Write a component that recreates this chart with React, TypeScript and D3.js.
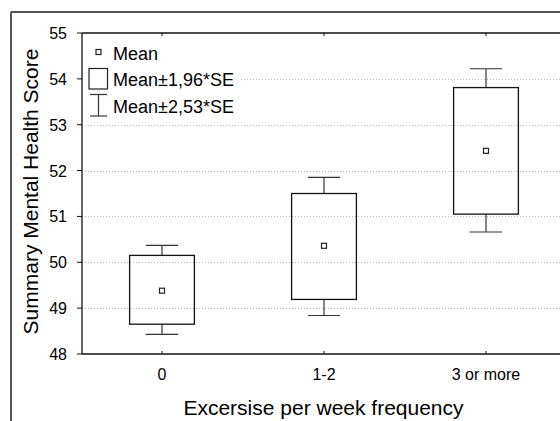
import * as d3 from "d3";

const categories = ["0", "1-2", "3 or more"];
const means = [49.38, 50.36, 52.43];
const boxLow = [48.65, 49.19, 51.05];
const boxHigh = [50.15, 51.5, 53.81];
const whiskerLow = [48.43, 48.84, 50.66];
const whiskerHigh = [50.37, 51.85, 54.22];
const yTicks = [48, 49, 50, 51, 52, 53, 54, 55];

const W = 560;
const H = 421;
const margin = { top: 33, right: -7, bottom: 67, left: 82 };
const font = "'Liberation Sans', Arial, sans-serif";

const App = () => {
  const x = d3
    .scaleBand<string>()
    .domain(categories)
    .range([margin.left - 1, W - margin.right])
    .padding(0);
  const y = d3
    .scaleLinear()
    .domain([48, 55])
    .range([H - margin.bottom, margin.top]);

  const bw = x.bandwidth();
  const boxW = bw * 0.4;
  const capW = bw * 0.2;
  const cx = (c: string) => (x(c) ?? 0) + bw / 2;
  const left = margin.left;
  const right = W - margin.right;
  const top = margin.top;
  const bottom = H - margin.bottom;

  return (
    <svg
      width={W}
      height={H}
      style={{ position: "absolute", left: 0, top: 0, background: "#fff" }}
      fontFamily={font}
    >
      {/* outer frame */}
      <line x1={11} x2={11} y1={12} y2={H} stroke="#555" strokeWidth={2} />
      <line x1={11} x2={W} y1={12} y2={12} stroke="#555" strokeWidth={2} />

      {/* grid lines */}
      {yTicks
        .filter((t) => t > 48 && t < 55)
        .map((t) => (
          <line
            key={"g" + t}
            x1={left}
            x2={right}
            y1={Math.round(y(t)) + 0.5}
            y2={Math.round(y(t)) + 0.5}
            stroke="#bbb"
            strokeDasharray="1,2"
          />
        ))}

      {/* boxes and whiskers */}
      {categories.map((c, i) => {
        const xc = cx(c);
        return (
          <g key={c}>
            <line x1={xc} x2={xc} y1={y(whiskerHigh[i])} y2={y(boxHigh[i])} stroke="#333" strokeWidth={1.2} />
            <line x1={xc} x2={xc} y1={y(boxLow[i])} y2={y(whiskerLow[i])} stroke="#333" strokeWidth={1.2} />
            <line x1={xc - capW / 2} x2={xc + capW / 2} y1={y(whiskerHigh[i])} y2={y(whiskerHigh[i])} stroke="#333" strokeWidth={1.2} />
            <line x1={xc - capW / 2} x2={xc + capW / 2} y1={y(whiskerLow[i])} y2={y(whiskerLow[i])} stroke="#333" strokeWidth={1.2} />
            <rect
              x={xc - boxW / 2}
              y={y(boxHigh[i])}
              width={boxW}
              height={y(boxLow[i]) - y(boxHigh[i])}
              fill="none"
              stroke="#111"
              strokeWidth={1.3}
            />
            <rect x={xc - 2.5} y={y(means[i]) - 2.5} width={5} height={5} fill="#fff" stroke="#222" strokeWidth={1.2} />
          </g>
        );
      })}

      {/* legend */}
      <rect x={left + 1} y={top + 1} width={158} height={88} fill="#fff" />
      <rect x={96} y={49.5} width={5} height={5} fill="#fff" stroke="#222" strokeWidth={1.2} />
      <text x={113} y={60} fontSize={18}>Mean</text>
      <rect x={89} y={68.5} width={18.5} height={20.5} fill="none" stroke="#222" strokeWidth={1.2} />
      <text x={113} y={86} fontSize={18}>Mean±1,96*SE</text>
      <line x1={98.5} x2={98.5} y1={94.5} y2={116} stroke="#333" strokeWidth={1.2} />
      <line x1={90} x2={107} y1={94.5} y2={94.5} stroke="#333" strokeWidth={1.2} />
      <line x1={90} x2={107} y1={116} y2={116} stroke="#333" strokeWidth={1.2} />
      <text x={113} y={112.5} fontSize={18}>Mean±2,53*SE</text>

      {/* axes frame */}
      <line x1={left} x2={left} y1={top} y2={bottom} stroke="#111" strokeWidth={1.3} />
      <line x1={left} x2={right} y1={top} y2={top} stroke="#111" strokeWidth={1.3} />
      <line x1={left} x2={right} y1={bottom} y2={bottom} stroke="#111" strokeWidth={1.3} />

      {/* y ticks */}
      {yTicks.map((t) => (
        <g key={"y" + t}>
          <line x1={left - 5} x2={left} y1={y(t)} y2={y(t)} stroke="#111" />
          <text x={67} y={y(t) + 6} fontSize={16} textAnchor="end">
            {t}
          </text>
        </g>
      ))}

      {/* x ticks */}
      {categories.map((c) => (
        <g key={"x" + c}>
          <line x1={cx(c)} x2={cx(c)} y1={bottom} y2={bottom - 3} stroke="#111" />
          <line x1={cx(c)} x2={cx(c)} y1={top} y2={top + 3} stroke="#111" />
          <text x={cx(c)} y={380} fontSize={16} textAnchor="middle">
            {c}
          </text>
        </g>
      ))}

      {/* axis titles */}
      <text x={323.5} y={415} fontSize={21} textAnchor="middle">
        Excersise per week frequency
      </text>
      <text
        transform={`translate(38,191.5) rotate(-90)`}
        fontSize={21}
        textAnchor="middle"
      >
        Summary Mental Health Score
      </text>
    </svg>
  );
};

export default App;
